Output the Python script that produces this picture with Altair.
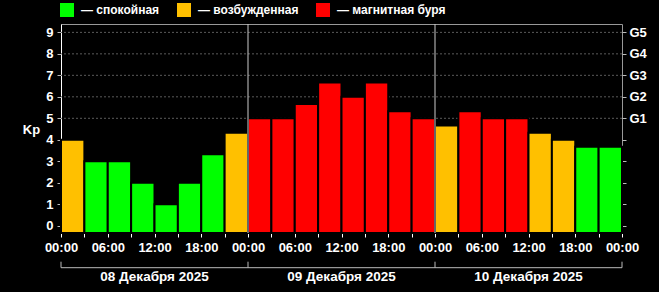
import json
import altair as alt
import pandas as pd

# ---- data ----
KP = [4.0, 3.0, 3.0, 2.0, 1.0, 2.0, 3.33, 4.33,
      5.0, 5.0, 5.67, 6.67, 6.0, 6.67, 5.33, 5.0,
      4.67, 5.33, 5.0, 5.0, 4.33, 4.0, 3.67, 3.67]
LEVELS = ["спокойная", "возбужденная", "магнитная буря"]
LEVEL_COLORS = ["#00ff00", "#ffc000", "#ff0000"]
DAYS = ["08 Декабря 2025", "09 Декабря 2025", "10 Декабря 2025"]
HOUR_LABELS = ["00:00", "", "06:00", "", "12:00", "", "18:00", ""] * 3 + ["00:00"]
G_LABELS = ["", "", "", "", "", "G1", "G2", "G3", "G4", "G5"]
KP_TICKS = list(range(10))
GRID_LEVELS = [5, 6, 7, 8, 9]
STEP_H = 3
DAY_H = 24

# ---- tables ----
def level_of(v):
    if v < 4:
        return LEVELS[0]
    if v < 5:
        return LEVELS[1]
    return LEVELS[2]

bars_df = pd.DataFrame({
    "start": [i * STEP_H for i in range(len(KP))],
    "end": [(i + 1) * STEP_H for i in range(len(KP))],
    "kp": KP,
    "level": [level_of(v) for v in KP],
})
n_days = len(DAYS)
total_h = n_days * DAY_H
days_df = pd.DataFrame({
    "start": [i * DAY_H for i in range(n_days)],
    "end": [(i + 1) * DAY_H for i in range(n_days)],
    "mid": [i * DAY_H + DAY_H / 2 for i in range(n_days)],
    "day": DAYS,
})
bounds_df = pd.DataFrame({"t": [i * DAY_H for i in range(n_days + 1)]})
sep_df = pd.DataFrame({"t": [i * DAY_H for i in range(1, n_days)]})
grid_df = pd.DataFrame({"level": GRID_LEVELS})

# ---- layout ----
W, H = 561, 209
Y_MIN, Y_MAX = -0.34, 9.39
FONT = "Liberation Sans"

xscale = alt.Scale(domain=[0, total_h], nice=False, zero=False)
yscale = alt.Scale(domain=[Y_MIN, Y_MAX], nice=False, zero=False)

hour_expr = json.dumps(HOUR_LABELS, ensure_ascii=False) + "[round(datum.value/%d)]" % STEP_H
g_expr = json.dumps(G_LABELS) + "[round(datum.value)]"

grid = alt.Chart(grid_df).mark_rule(color="#5a5a5a", strokeDash=[2, 2], strokeWidth=1).encode(
    y=alt.Y("level:Q", scale=yscale, title=None,
            axis=alt.Axis(orient="right", values=KP_TICKS, labelExpr=g_expr,
                          domain=False, grid=False, tickColor="#bbbbbb", tickSize=4,
                          labelPadding=3, labelFontSize=13, labelFontWeight="bold",
                          labelColor="white", labelFont=FONT)),
)

bars = alt.Chart(bars_df).mark_bar(stroke="black", strokeWidth=2).encode(
    x=alt.X("start:Q", scale=xscale, title=None,
            axis=alt.Axis(values=list(range(0, total_h + 1, STEP_H)), labelExpr=hour_expr,
                          labelFlush=False, labelOverlap=False, labelBound=False,
                          domainColor="white", tickColor="white", tickSize=4, grid=False,
                          labelPadding=4, labelFontSize=13, labelFontWeight="bold",
                          labelColor="white", labelFont=FONT)),
    x2="end:Q",
    y=alt.Y("kp:Q", scale=yscale, title="Kp",
            axis=alt.Axis(orient="left", values=KP_TICKS, grid=False,
                          domainColor="white", tickColor="#bbbbbb", tickSize=4,
                          labelPadding=4, labelFontSize=13, labelFontWeight="bold",
                          labelColor="white", labelFont=FONT,
                          titleAngle=0, titleX=-30, titleY=105, titleAlign="center",
                          titleBaseline="middle", titleFontSize=13, titleFontWeight="bold",
                          titleColor="white", titleFont=FONT)),
    y2=alt.datum(Y_MIN),
    color=alt.Color("level:N", scale=alt.Scale(domain=LEVELS, range=LEVEL_COLORS),
                    legend=alt.Legend(orient="none", direction="horizontal", legendX=-1, legendY=-21,
                                      title=None, padding=0, symbolType="square", symbolSize=196,
                                      symbolStrokeWidth=0, symbolOpacity=1,
                                      labelExpr="'— ' + datum.label", labelFontSize=12,
                                      labelFontWeight="bold", labelColor="white", labelFont=FONT,
                                      labelOffset=7, columnPadding=17)),
)

seps = alt.Chart(sep_df).mark_rule(color="#cccccc", strokeWidth=1).encode(
    x=alt.X("t:Q", scale=xscale, axis=None),
)

bracket_h = alt.Chart(days_df).mark_rule(color="#bbbbbb", strokeWidth=1).encode(
    x=alt.X("start:Q", scale=xscale, axis=None),
    x2="end:Q",
    y=alt.value(243.7),
)
bracket_v = alt.Chart(bounds_df).mark_rule(color="#bbbbbb", strokeWidth=1).encode(
    x=alt.X("t:Q", scale=xscale, axis=None),
    y=alt.value(237.7),
    y2=alt.value(243.7),
)
day_text = alt.Chart(days_df).mark_text(fontSize=13.5, fontWeight="bold", color="white",
                                        font=FONT, baseline="middle", align="center").encode(
    x=alt.X("mid:Q", scale=xscale, axis=None),
    y=alt.value(252.5),
    text="day:N",
)

chart = alt.layer(grid, bars, seps, bracket_h, bracket_v, day_text).resolve_axis(
    y="independent", x="independent"
).properties(
    width=W, height=H,
    autosize=alt.AutoSizeParams(type="none"),
    padding={"left": 61, "top": 24, "right": 659 - 61 - W, "bottom": 292 - 24 - H},
    background="black",
).configure_view(stroke="#999999", strokeWidth=1)

chart.save("out.html", embed_options={"renderer": "svg", "actions": False})
